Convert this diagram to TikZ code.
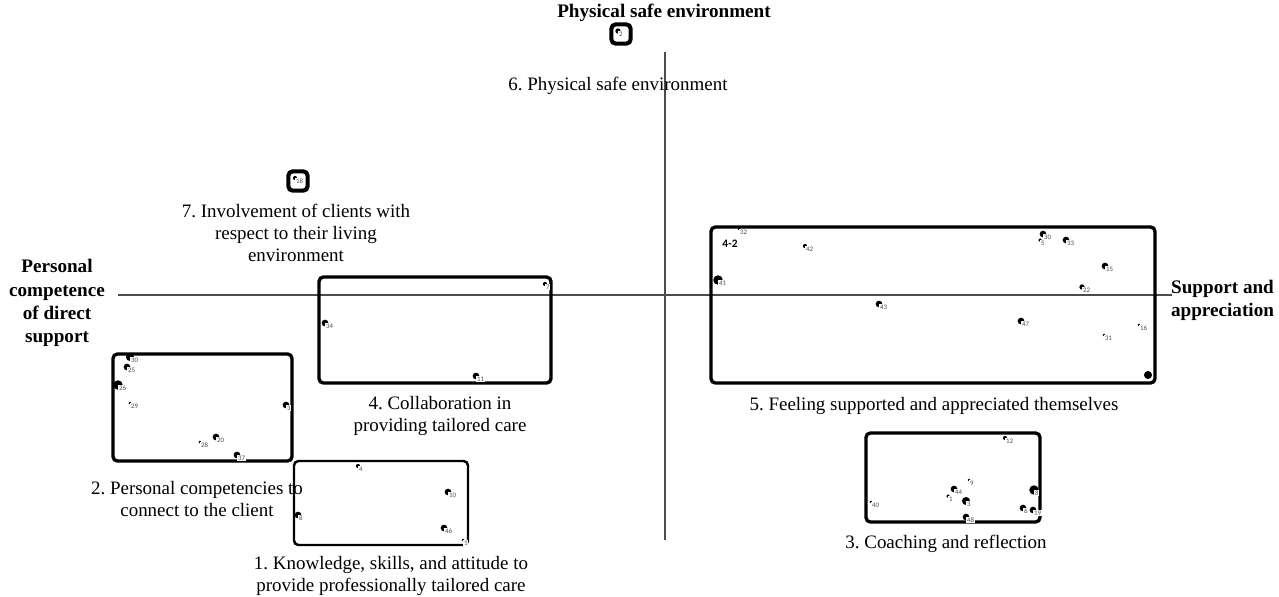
\documentclass[tikz,border=0pt]{standalone}
\usepackage{fontspec}
\setmainfont{Liberation Serif}
\newfontfamily\numfont{Carlito}
\frenchspacing
\tikzset{%
  idea/.style={circle,inner sep=0pt,minimum size=#1,fill=black},
  idea/.default=3.8pt,
  num/.style={font=\numfont\fontsize{3.9}{4}\selectfont,text=black!70,fill=white,inner sep=0.4pt,anchor=north west},
  cluster/.style={draw,line width=1.9pt,rounded corners=2.5pt},
  clabel/.style={font=\fontsize{10.8}{12.7}\selectfont,align=center},
  axlabel/.style={font=\bfseries\fontsize{10.9}{13.2}\selectfont,align=center},
  axis/.style={draw=black!70,line width=0.7pt}
}

\begin{document}
\begin{tikzpicture}[x=0.02cm,y=-0.02cm]
  \useasboundingbox (0,0) rectangle (1279,596);
  % axes
  \coordinate (vtop) at (665,52);
  \coordinate (vbot) at (665,540);
  \coordinate (hl) at (118,295);
  \coordinate (hr) at (1172,295);
  \draw[axis] (vtop) -- (vbot);
  \draw[axis] (hl) -- (hr);
  \node[axlabel] (ax1) at (664,13) {Physical safe environment};
  \node[axlabel] (ax2) at (57,303) {Personal\\competence\\of direct\\support};
  \node[axlabel,anchor=west,inner sep=1pt] (ax3) at (1169,300) {Support and\\appreciation};
  %%% cluster 6 and 7
  \node[cluster,line width=2.3pt,minimum size=11pt,inner sep=0pt] (c6) at (621,34) {};
  \node[idea=3pt] (c6p2) at (618,31) {};
  \node[num] at (c6p2.center) {2};
  \node[clabel] (l6) at (618,86) {6. Physical safe environment};
  \node[cluster,line width=2.3pt,minimum size=11pt,inner sep=0pt] (c7) at (298,181) {};
  \node[idea=2.4pt] (c7p18) at (295,178) {};
  \node[num] at (c7p18.center) {18};
  \node[clabel] (l7) at (296,233) {7. Involvement of clients with\\respect to their living\\environment};
  %%% cluster 4
  \coordinate (b4a) at (319,277);
  \coordinate (b4b) at (551,383);
  \draw[cluster] (b4a) rectangle (b4b);
  \node[idea=2.4pt] (c4p7) at (545,284) {};
  \node[num] at (c4p7.center) {7};
  \node[idea] (c4p34) at (325,323) {};
  \node[num] at (c4p34.center) {34};
  \node[idea] (c4p11) at (476,376) {};
  \node[num] at (c4p11.center) {11};
  \node[clabel] (l4) at (440,416) {4. Collaboration in\\providing tailored care};
  %%% cluster 2
  \coordinate (b2a) at (113,354);
  \coordinate (b2b) at (292,461);
  \draw[cluster] (b2a) rectangle (b2b);
  \node[idea=4.6pt] (c2p30) at (130,357) {};
  \node[num] at (c2p30.center) {30};
  \node[idea] (c2p25) at (127,367) {};
  \node[num] at (c2p25.center) {25};
  \node[idea=5.4pt] (c2p26) at (118,385) {};
  \node[num] at (c2p26.center) {26};
  \node[idea=1.7pt] (c2p29) at (130,403) {};
  \node[num] at (c2p29.center) {29};
  \node[idea] (c2p3) at (286,405) {};
  \node[num] at (c2p3.center) {3};
  \node[idea] (c2p20) at (216,437) {};
  \node[num] at (c2p20.center) {20};
  \node[idea=1.7pt] (c2p28) at (200,442) {};
  \node[num] at (c2p28.center) {28};
  \node[idea] (c2p37) at (237,455) {};
  \node[num] at (c2p37.center) {37};
  \node[clabel] (l2) at (197,499) {2. Personal competencies to\\connect to the client};
  %%% cluster 1
  \coordinate (b1a) at (294,461);
  \coordinate (b1b) at (468,545);
  \draw[cluster,line width=1.4pt] (b1a) rectangle (b1b);
  \node[idea=2.4pt] (c1p4) at (358,466) {};
  \node[num] at (c1p4.center) {4};
  \node[idea] (c1p10) at (448,492) {};
  \node[num] at (c1p10.center) {10};
  \node[idea] (c1p8) at (298,515) {};
  \node[num] at (c1p8.center) {8};
  \node[idea] (c1p46) at (444,528) {};
  \node[num] at (c1p46.center) {46};
  \node[idea=1.7pt] (c1p1) at (463,540) {};
  \node[num] at (c1p1.center) {1};
  \node[clabel] (l1) at (391,576) {1. Knowledge, skills, and attitude to\\provide professionally tailored care};
  %%% cluster 5
  \coordinate (b5a) at (711,227);
  \coordinate (b5b) at (1155,383);
  \draw[cluster] (b5a) rectangle (b5b);
  \node[font=\numfont\bfseries\fontsize{6.5}{7}\selectfont] (t42) at (730,244) {4-2};
  \node[idea=1.7pt] (c5p32) at (739,229) {};
  \node[num] at (c5p32.center) {32};
  \node[idea=2.4pt] (c5p42) at (805,246) {};
  \node[num] at (c5p42.center) {42};
  \node[idea=5.4pt] (c5p41) at (718,280) {};
  \node[num] at (c5p41.center) {41};
  \node[idea] (c5p30) at (1043,234) {};
  \node[num] at (c5p30.center) {30};
  \node[idea=2pt] (c5p5) at (1040,240) {};
  \node[num] at (c5p5.center) {5};
  \node[idea] (c5p33) at (1066,240) {};
  \node[num] at (c5p33.center) {33};
  \node[idea] (c5p15) at (1105,266) {};
  \node[num] at (c5p15.center) {15};
  \node[idea=3pt] (c5p22) at (1082,287) {};
  \node[num] at (c5p22.center) {22};
  \node[idea] (c5p43) at (879,304) {};
  \node[num] at (c5p43.center) {43};
  \node[idea] (c5p47) at (1021,321) {};
  \node[num] at (c5p47.center) {47};
  \node[idea=1.7pt] (c5p16) at (1139,325) {};
  \node[num] at (c5p16.center) {16};
  \node[idea=1.7pt] (c5p31) at (1104,335) {};
  \node[num] at (c5p31.center) {31};
  \node[idea=4.6pt] (c5p14) at (1148,375) {};
  \node[clabel] (l5) at (934,406) {5. Feeling supported and appreciated themselves};
  %%% cluster 3
  \coordinate (b3a) at (866,433);
  \coordinate (b3b) at (1040,522);
  \draw[cluster] (b3a) rectangle (b3b);
  \node[idea=2.4pt] (c3p12) at (1005,438) {};
  \node[num] at (c3p12.center) {12};
  \node[idea=1.7pt] (c3p9) at (969,480) {};
  \node[num] at (c3p9.center) {9};
  \node[idea] (c3p44) at (954,489) {};
  \node[num] at (c3p44.center) {44};
  \node[idea=2pt] (c3p1) at (948,496) {};
  \node[num] at (c3p1.center) {1};
  \node[idea=4.6pt] (c3p3) at (966,501) {};
  \node[num] at (c3p3.center) {3};
  \node[idea=1.7pt] (c3p40) at (871,502) {};
  \node[num] at (c3p40.center) {40};
  \node[idea=5.4pt] (c3p8) at (1034,490) {};
  \node[num] at (c3p8.center) {8};
  \node[idea] (c3p6) at (1023,508) {};
  \node[num] at (c3p6.center) {6};
  \node[idea] (c3p19) at (1033,510) {};
  \node[num] at (c3p19.center) {19};
  \node[idea] (c3p48) at (966,517) {};
  \node[num] at (c3p48.center) {48};
  \node[clabel] (l3) at (946,544) {3. Coaching and reflection};
\end{tikzpicture}
\end{document}
